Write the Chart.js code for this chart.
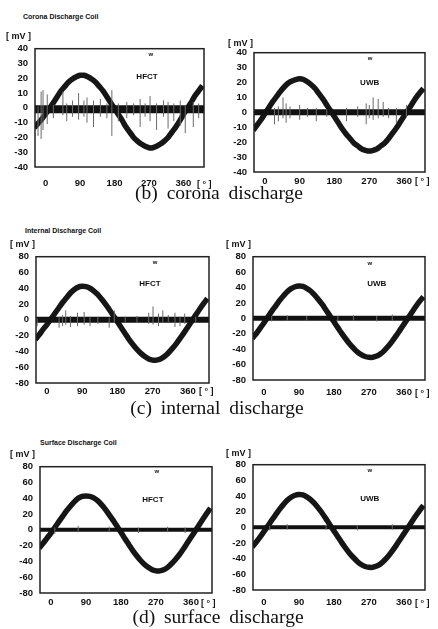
<!DOCTYPE html>
<html>
<head>
<meta charset="utf-8">
<script src="https://cdn.jsdelivr.net/npm/chart.js@4.4.1/dist/chart.umd.min.js"></script>
<style>
  body { margin: 0; background: #fff; }
  #page { position: relative; width: 438px; height: 629px; overflow: hidden; background: #fff; }
  canvas { position: absolute; }
  .t { position: absolute; white-space: nowrap; line-height: 1; color: #111; }
  .title { font: bold 7px 'Liberation Sans', Arial, sans-serif; }
  .unit { font: bold 9px 'Liberation Sans', Arial, sans-serif; }
  .cap { font: 19.5px 'Liberation Serif', 'Times New Roman', serif; word-spacing: 4px; }
</style>
</head>
<body>
<div id="page"></div>
<script>
// phase angle [deg] where the waveform was read
const angles = [-30, -20, -10, 0, 10, 20, 30, 40, 50, 60, 70, 80, 90, 100, 110, 120, 130, 140, 150, 160,
    170, 180, 190, 200, 210, 220, 230, 240, 250, 260, 270, 280, 290, 300, 310, 320, 330, 340, 350, 360,
    370, 380, 390, 400, 410];
const xTicks = [0, 90, 180, 270, 360];

// applied voltage waveform [mV]
const coronaHfct = [-13.5, -10.5, -7.5, -4, -0.5, 3.5, 7.5, 11.5, 14.5, 17.5, 19.5, 21, 22, 22, 21, 19.5, 17.5, 14.5, 11.5, 7.5,
    3.5, -0.5, -4.5, -8.5, -13, -16.5, -20, -22.5, -24.5, -26, -27, -27, -26, -24.5, -22.5, -20, -16.5, -13, -9, -4.5,
    -0.5, 3.5, 8, 11.5, 15];
const coronaUwb = [-12, -8.5, -5, -1, 3, 7, 10.5, 14, 17, 19.5, 21, 22, 22.5, 22, 20.5, 18.5, 16, 12.5, 9, 5,
    1, -3, -7, -11, -14.5, -17.5, -20.5, -22.5, -24.5, -25.5, -26, -25.5, -24.5, -22.5, -20.5, -17.5, -14, -10.5, -6.5, -2.5,
    1.5, 5.5, 9.5, 13, 16];
const internalHfct = [-25, -19, -12, -6, 1, 8, 15, 22, 28, 34, 38.5, 41.5, 42.5, 42, 40, 36.5, 32, 26, 19.5, 12.5,
    5, -2.5, -10, -17.5, -25, -31.5, -37.5, -42.5, -46.5, -49.5, -51, -51, -49.5, -46.5, -42, -36.5, -30.5, -23.5, -16.5, -9,
    -1.5, 6, 13.5, 20.5, 27];
const internalUwb = [-26, -20, -13, -6, 1.5, 9, 16, 23, 29, 34.5, 38.5, 41, 42, 41.5, 39, 35.5, 30.5, 24.5, 18, 10.5,
    3, -4.5, -12, -19.5, -26.5, -33, -38.5, -43.5, -47, -49.5, -50.5, -50.5, -49, -46, -41.5, -36, -29.5, -22.5, -15, -7.5,
    0, 7.5, 15, 22, 28];
const surfaceHfct = [-23, -17, -10.5, -4, 3, 10, 17, 24, 30, 35.5, 40, 42.5, 43, 42.5, 40.5, 37, 32, 26, 19, 12,
    4.5, -3, -11, -18.5, -26, -32.5, -38.5, -43.5, -47.5, -50.5, -52, -52, -50.5, -47.5, -43, -37.5, -31.5, -24.5, -17, -9.5,
    -2, 5.5, 13, 20.5, 27.5];
const surfaceUwb = [-25, -19, -12.5, -5.5, 1.5, 9, 16, 23, 29, 34.5, 38.5, 41, 42, 41.5, 39, 35.5, 30.5, 24.5, 18, 10.5,
    3, -4.5, -12, -19.5, -26.5, -33, -38.5, -43.5, -47.5, -50, -51, -51, -49.5, -46.5, -42, -36.5, -30, -23, -15.5, -8,
    -0.5, 7, 14.5, 21.5, 28];

// PD pulses: [angle, min mV, max mV]
const coronaHfctPulses = [[-20, -18, 2], [-12, -20, 12], [-7, -14, 13], [4, -10, 10], [20, -6, 3], [45, -4, 12], [55, -8, 4],
    [70, -5, 6], [86, -7, 11], [100, -5, 6], [108, -9, 8], [125, -12, 6], [143, -5, 7], [160, -6, 4], [173, -18, 13],
    [190, -8, 4], [212, -6, 5], [230, -4, 4], [247, -12, 7], [260, -5, 4], [273, -8, 9], [290, -14, 4], [308, -5, 6],
    [320, -13, 5], [335, -8, 4], [352, -11, 6], [365, -16, 3], [386, -12, 5], [400, -6, 4]];
const coronaUwbPulses = [[25, -8, 3], [35, -6, 4], [47, -4, 10], [55, -7, 6], [65, -4, 4], [90, -5, 5], [110, -3, 3],
    [133, -6, 3], [160, -3, 2], [211, -6, 3], [240, -3, 4], [262, -8, 6], [270, -4, 5], [280, -5, 10], [293, -4, 9],
    [306, -3, 7], [320, -4, 3], [340, -7, 3], [366, -3, 5]];
const internalHfctPulses = [[-25, -8, 2], [31, -10, 4], [40, -8, 6], [48, -6, 12], [60, -9, 5], [78, -8, 9], [95, -6, 10],
    [110, -8, 4], [130, -5, 4], [159, -10, 3], [172, -4, 12], [200, -3, 4], [230, -4, 5], [260, -5, 9], [271, -6, 17],
    [285, -8, 8], [296, -4, 12], [310, -3, 6], [327, -9, 9], [340, -8, 4], [352, -5, 8], [380, -4, 4]];
const internalUwbPulses = [[20, -4, 3], [60, -3, 4], [110, -3, 3], [190, -4, 3], [230, -3, 4], [290, -4, 3], [330, -3, 5]];
const surfaceHfctPulses = [[10, -5, 3], [70, -3, 5], [150, -3, 4], [225, -4, 3], [300, -3, 4], [345, -4, 3]];
const surfaceUwbPulses = [[15, -4, 2], [60, -3, 4], [160, -3, 3], [240, -4, 3], [330, -3, 4]];

const panels = [
    { box: [35, 44, 204, 167], yMax: 40, step: 10, wave: coronaHfct, pulses: coronaHfctPulses, band: 8, bandLevel: -1,
      label: 'HFCT', labelAt: [265, 21], markAt: [275, 36], xPad: 11 },
    { box: [254, 48, 425, 172], yMax: 40, step: 10, wave: coronaUwb, pulses: coronaUwbPulses, band: 6, bandLevel: 0,
      label: 'UWB', labelAt: [271, 20], markAt: [272, 36], xPad: 4 },
    { box: [36, 252, 209, 383], yMax: 80, step: 20, wave: internalHfct, pulses: internalHfctPulses, band: 6, bandLevel: 0,
      label: 'HFCT', labelAt: [263, 46], markAt: [276, 73], xPad: 3 },
    { box: [253, 252, 425, 380], yMax: 80, step: 20, wave: internalUwb, pulses: internalUwbPulses, band: 5, bandLevel: 0,
      label: 'UWB', labelAt: [290, 45], markAt: [272, 72], xPad: 7 },
    { box: [40, 462, 212, 593], yMax: 80, step: 20, wave: surfaceHfct, pulses: surfaceHfctPulses, band: 4, bandLevel: 0,
      label: 'HFCT', labelAt: [262, 38], markAt: [272, 74], xPad: 4 },
    { box: [253, 460, 425, 590], yMax: 80, step: 20, wave: surfaceUwb, pulses: surfaceUwbPulses, band: 4, bandLevel: 0,
      label: 'UWB', labelAt: [272, 36], markAt: [272, 73], xPad: 7 }
];

const X_MIN = -28, X_MAX = 414;
const Y_AXIS_W = 40, X_AXIS_H = 30, PAD_TOP = 8, PAD_RIGHT = 8;
const tickFont = { family: "'Liberation Sans', Arial, sans-serif", size: 9.5, weight: 'bold' };

// frame + in-plot annotations
const framePlugin = {
    id: 'frame',
    afterDatasetsDraw(chart, args, opts) {
        const { ctx, chartArea: a, scales } = chart;
        ctx.save();
        ctx.strokeStyle = '#222';
        ctx.lineWidth = 1.5;
        ctx.strokeRect(a.left, a.top, a.right - a.left, a.bottom - a.top);
        ctx.fillStyle = '#111';
        ctx.textAlign = 'center';
        ctx.textBaseline = 'middle';
        ctx.font = "bold 8px 'Liberation Sans', Arial, sans-serif";
        ctx.fillText(opts.label, scales.x.getPixelForValue(opts.labelAt[0]), scales.y.getPixelForValue(opts.labelAt[1]));
        ctx.font = "bold 6px 'Liberation Sans', Arial, sans-serif";
        ctx.fillText('w', scales.x.getPixelForValue(opts.markAt[0]), scales.y.getPixelForValue(opts.markAt[1]));
        ctx.restore();
    }
};

function addText(cls, text, x, y, size, align) {
    const el = document.createElement('div');
    el.className = 't ' + cls;
    el.textContent = text;
    el.style.top = (y - size / 2) + 'px';
    el.style.left = x + 'px';
    if (align === 'center') el.style.transform = 'translateX(-50%)';
    document.getElementById('page').appendChild(el);
}

function initPanel(p) {
    const [L, T, R, B] = p.box;
    const cv = document.createElement('canvas');
    cv.width = (R - L) + Y_AXIS_W + PAD_RIGHT;
    cv.height = (B - T) + PAD_TOP + X_AXIS_H;
    cv.style.left = (L - Y_AXIS_W) + 'px';
    cv.style.top = (T - PAD_TOP) + 'px';
    document.getElementById('page').appendChild(cv);

    const pulseData = [];
    p.pulses.forEach(([a, lo, hi]) => {
        pulseData.push({ x: a, y: p.bandLevel + lo }, { x: a, y: p.bandLevel + hi }, { x: a, y: null });
    });

    new Chart(cv.getContext('2d'), {
        type: 'line',
        data: { datasets: [
            { data: pulseData, borderColor: '#6a6a6a', borderWidth: 1, spanGaps: false },
            { data: [{ x: X_MIN, y: p.bandLevel }, { x: X_MAX, y: p.bandLevel }], borderColor: '#111', borderWidth: p.band },
            { data: angles.map((a, i) => ({ x: a, y: p.wave[i] })), borderColor: '#161616', borderWidth: 5.5, tension: 0.3 }
        ]},
        options: {
            responsive: false,
            animation: false,
            layout: { padding: { top: PAD_TOP, right: PAD_RIGHT, left: 0, bottom: 0 } },
            elements: { point: { radius: 0 }, line: { borderCapStyle: 'butt' } },
            plugins: {
                legend: { display: false },
                tooltip: { enabled: false },
                frame: { label: p.label, labelAt: p.labelAt, markAt: p.markAt }
            },
            scales: {
                x: {
                    type: 'linear', min: X_MIN, max: X_MAX,
                    grid: { display: false, drawTicks: false },
                    border: { display: false },
                    afterBuildTicks: s => { s.ticks = xTicks.map(v => ({ value: v })); },
                    afterFit: s => { s.height = X_AXIS_H; },
                    ticks: { color: '#111', font: tickFont, padding: p.xPad, maxRotation: 0, autoSkip: false }
                },
                y: {
                    min: -p.yMax, max: p.yMax,
                    grid: { display: false, drawTicks: false },
                    border: { display: false },
                    afterFit: s => { s.width = Y_AXIS_W; },
                    ticks: { color: '#111', font: tickFont, padding: 7, stepSize: p.step }
                }
            }
        },
        plugins: [framePlugin]
    });
}

panels.forEach(initPanel);

// titles, units, captions
addText('title', 'Corona Discharge Coil', 23, 16, 7);
addText('title', 'Internal Discharge Coil', 25, 230, 7);
addText('title', 'Surface Discharge Coil', 40, 442, 7);

addText('unit', '[ mV ]', 6, 35, 9);
addText('unit', '[ mV ]', 228, 42, 9);
addText('unit', '[ mV ]', 10, 243, 9);
addText('unit', '[ mV ]', 226, 243, 9);
addText('unit', '[ mV ]', 10, 453, 9);
addText('unit', '[ mV ]', 226, 452, 9);

addText('unit', '[ ° ]', 197, 183, 9);
addText('unit', '[ ° ]', 415, 180, 9);
addText('unit', '[ ° ]', 199, 390, 9);
addText('unit', '[ ° ]', 415, 392, 9);
addText('unit', '[ ° ]', 201, 602, 9);
addText('unit', '[ ° ]', 415, 602, 9);

addText('cap', '(b) corona discharge', 219, 192, 19.5, 'center');
addText('cap', '(c) internal discharge', 217, 407, 19.5, 'center');
addText('cap', '(d) surface discharge', 218, 616, 19.5, 'center');
</script>
</body>
</html>
